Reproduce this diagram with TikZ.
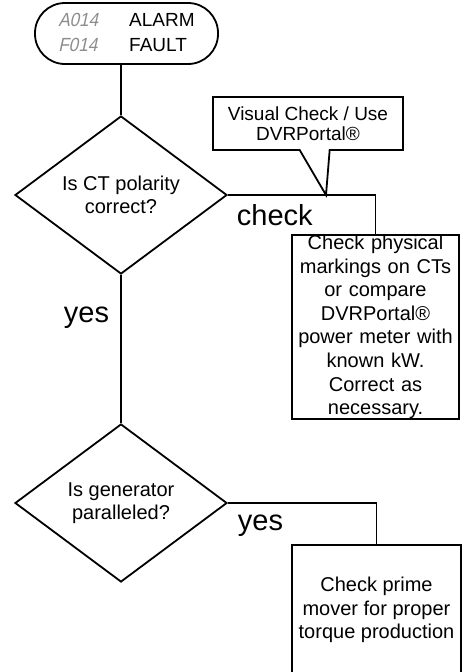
\documentclass[tikz,border=0pt]{standalone}
\usepackage{fontspec}
\setmainfont{Liberation Sans}
\newfontfamily\lcdfont[FakeSlant=0.22,FakeStretch=0.9]{Liberation Sans}
\usetikzlibrary{shapes.geometric,shapes.callouts,positioning}

\begin{document}
\begin{tikzpicture}[x=1pt, y=-1pt, line width=1.8pt,
  decision/.style={draw, diamond, aspect=1.34, inner sep=0pt,
    minimum width=212pt, minimum height=158pt, align=center,
    font=\fontsize{20}{22.5}\selectfont},
  action/.style={draw, rectangle, inner sep=0pt, align=center,
    font=\fontsize{20}{23.6}\selectfont},
  lbl/.style={font=\fontsize{29}{30}\selectfont, inner sep=0pt, anchor=base west}]

\useasboundingbox (0,0) rectangle (462,672);
\clip (0,0) rectangle (462,672);

% Start: alarm / fault code
\node[draw, rectangle, rounded corners=30pt, minimum width=183pt, minimum height=61pt,
  inner sep=0pt, font=\fontsize{19}{25}\selectfont] (code) at (126.5,33.5)
  {\begin{tabular}{@{}l@{\hspace{31pt}}l@{}}
    {\lcdfont\color{black!45}A014} & ALARM\\
    {\lcdfont\color{black!45}F014} & FAULT
  \end{tabular}};

% Decisions
\node[decision] (ctpol) at (121,195) {Is CT polarity\\correct?};
\node[decision] (genpar) at (121,503) {Is generator\\paralleled?};

% Actions
\node[action, minimum width=167pt, minimum height=180pt, text width=165pt] (ctcheck) at (375.5,327)
  {Check physical\\markings on CTs\\or compare\\DVRPortal\textregistered\\power meter with\\known kW.\\Correct as\\necessary.};
\node[action, minimum width=169pt, minimum height=130pt] (prime) at (376.5,610)
  {Check prime\\mover for proper\\torque production};

% Connectors
\draw (code.south -| ctpol.north) -- (ctpol.north);
\draw (ctpol.south) -- (genpar.north);
\draw (ctpol.east) -| (ctcheck.north);
\draw (genpar.east) -| (prime.north);

% Callout on the check branch
\coordinate (tip) at (326,195);
\node[draw, rectangle callout, callout absolute pointer={(tip)}, callout pointer width=30pt,
  fill=white, minimum width=190pt, minimum height=53pt, inner sep=0pt, align=center,
  font=\fontsize{19}{20}\selectfont] (visual) at (308,123.5)
  {Visual Check / Use\\DVRPortal\textregistered};

% Branch labels
\node[lbl] (chklbl) at (236,225) {check};
\node[lbl] (yes1) at (63,322) {yes};
\node[lbl] (yes2) at (237,530) {yes};

\end{tikzpicture}
\end{document}
